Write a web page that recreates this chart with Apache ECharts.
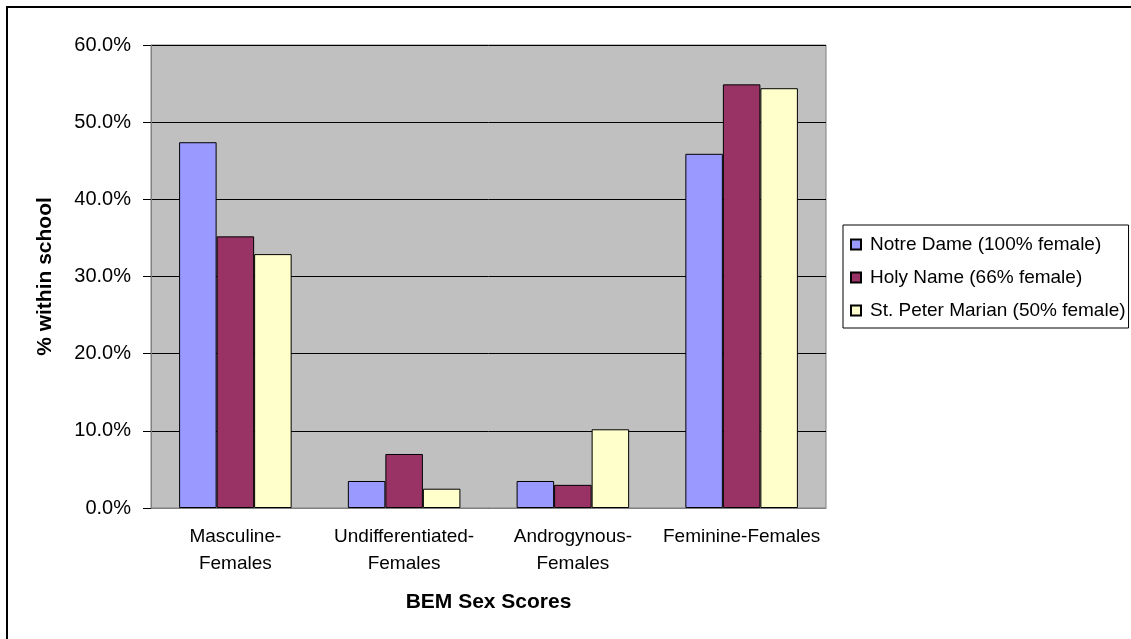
<!DOCTYPE html>
<html>
<head>
<meta charset="utf-8">
<script src="https://cdn.jsdelivr.net/npm/echarts@6/dist/echarts.min.js"></script>
<style>
html,body{margin:0;padding:0;background:#fff;}
#c{width:1131px;height:639px;}
</style>
</head>
<body>
<div id="c"></div>
<script>
var categories = ['Masculine-\nFemales', 'Undifferentiated-\nFemales', 'Androgynous-\nFemales', 'Feminine-Females'];
var seriesNames = ['Notre Dame (100% female)', 'Holy Name (66% female)', 'St. Peter Marian (50% female)'];
var notreDame = [47.4, 3.5, 3.5, 45.9];
var holyName = [35.2, 7.0, 3.0, 54.9];
var stPeterMarian = [32.9, 2.5, 10.2, 54.4];
var yTicks = [0, 10, 20, 30, 40, 50, 60];

var FONT = "'Liberation Sans', Arial, sans-serif";
var colors = ['#9999FF', '#993366', '#FFFFCC'];
var values = [notreDame, holyName, stPeterMarian];

var chart = echarts.init(document.getElementById('c'), null, {renderer: 'canvas'});
chart.setOption({
  animation: false,
  backgroundColor: '#fff',
  textStyle: {fontFamily: FONT},
  graphic: [{
    type: 'rect', silent: true, z: 100,
    shape: {x: 7, y: 7, width: 1300, height: 800},
    style: {fill: 'none', stroke: '#000', lineWidth: 2}
  }],
  grid: {
    left: 151, top: 45, right: 305, bottom: 131,
    show: true, backgroundColor: '#C0C0C0', borderColor: '#808080', borderWidth: 1
  },
  legend: {
    orient: 'vertical',
    left: 843, top: 225,
    padding: [10, 3, 8, 7],
    itemGap: 14,
    itemWidth: 10, itemHeight: 10,
    icon: 'rect',
    borderColor: '#000', borderWidth: 1,
    backgroundColor: '#fff',
    textStyle: {fontFamily: FONT, fontSize: 19, color: '#000', padding: [0, 0, 0, 4]},
    data: seriesNames
  },
  xAxis: {
    type: 'category',
    data: categories,
    name: 'BEM Sex Scores',
    nameLocation: 'middle',
    nameGap: 84,
    nameTextStyle: {fontFamily: FONT, fontSize: 21, fontWeight: 'bold', color: '#000'},
    axisLine: {lineStyle: {color: '#808080', width: 1}},
    axisTick: {length: 8, lineStyle: {color: '#000'}},
    axisLabel: {fontFamily: FONT, fontSize: 19, color: '#000', lineHeight: 27, margin: 15, interval: 0}
  },
  yAxis: {
    type: 'value',
    min: 0, max: 60, interval: 10,
    name: '% within school',
    nameLocation: 'middle',
    nameRotate: 90,
    nameGap: 95,
    nameTextStyle: {fontFamily: FONT, fontSize: 21, fontWeight: 'bold', color: '#000'},
    axisLine: {show: true, lineStyle: {color: '#808080', width: 1}},
    axisTick: {show: true, length: 8, lineStyle: {color: '#000'}},
    axisLabel: {
      fontFamily: FONT, fontSize: 20, color: '#000', margin: 20,
      formatter: function (v) { return yTicks.indexOf(v) >= 0 ? v.toFixed(1) + '%' : ''; }
    },
    splitLine: {show: true, lineStyle: {color: '#000', width: 1}}
  },
  series: seriesNames.map(function (n, i) {
    return {
      name: n,
      type: 'bar',
      data: values[i],
      barGap: '0%',
      barCategoryGap: '33.3%',
      itemStyle: {color: colors[i], borderColor: '#000', borderWidth: 1}
    };
  })
});
</script>
</body>
</html>
